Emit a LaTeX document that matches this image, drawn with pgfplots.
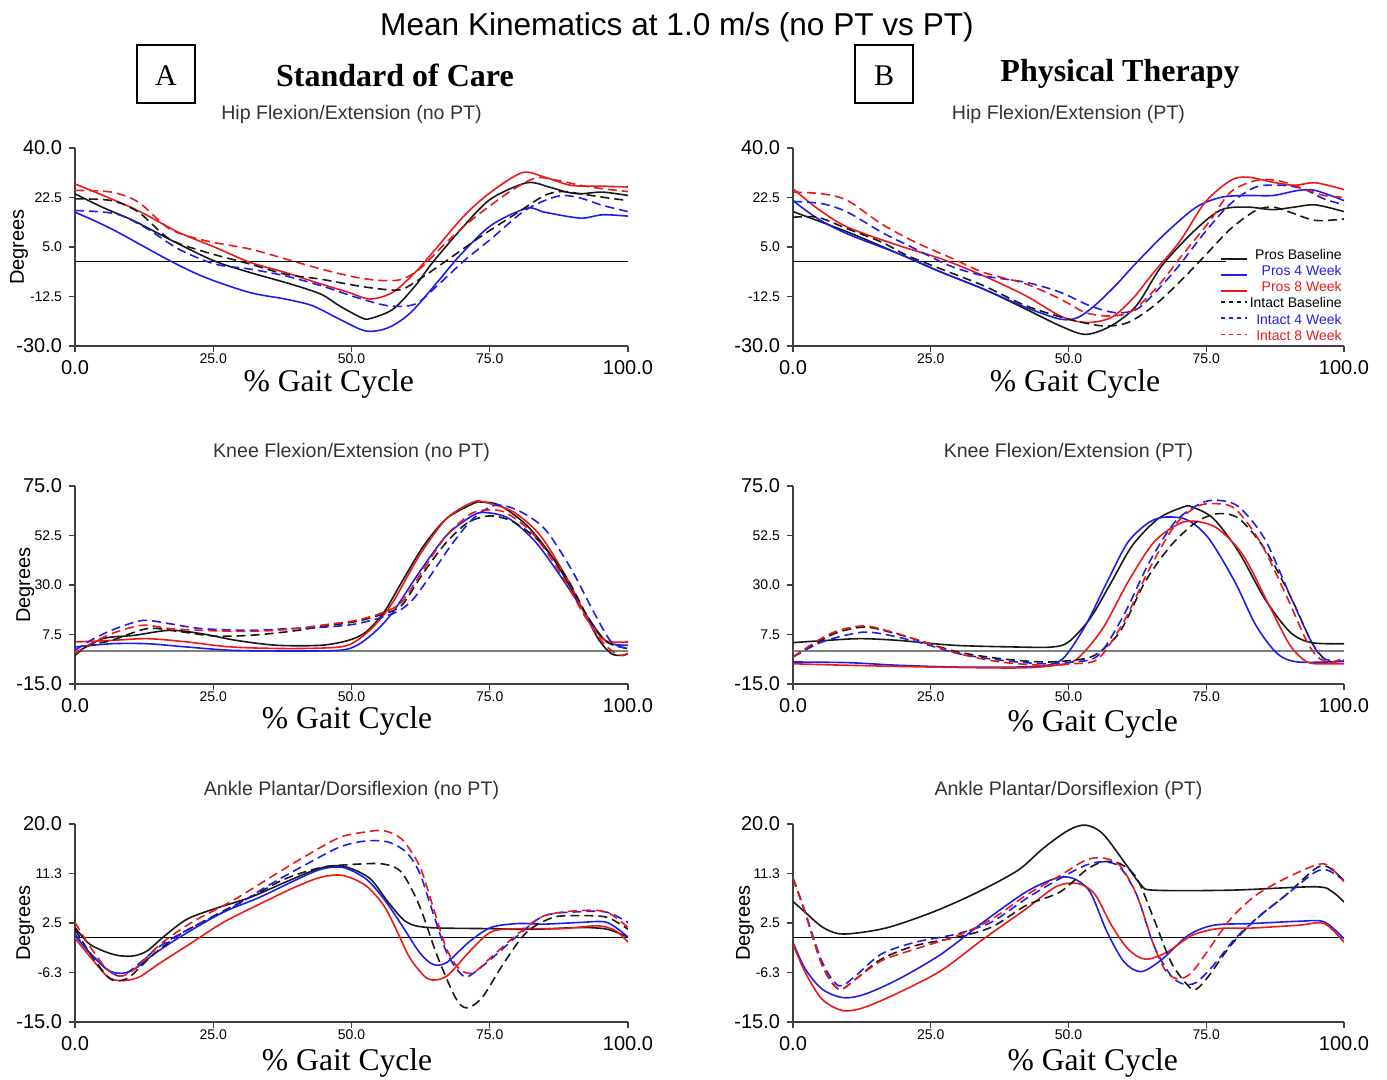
\documentclass[border=0pt]{standalone}
\usepackage{fontspec}
\setmainfont{Liberation Sans}
\newfontfamily\tnr{Liberation Serif}
\usepackage{pgfplots}
\pgfplotsset{compat=1.18}
\definecolor{cb}{RGB}{25,25,25}
\definecolor{cblue}{RGB}{30,30,235}
\definecolor{cred}{RGB}{235,25,25}
\newcommand\LT[1]{{\fontsize{10}{11}\selectfont #1}}
\newcommand\LX[1]{{\fontsize{10}{11}\selectfont\rule{0pt}{10.2pt}#1}}
\pgfplotsset{
  kin/.style={scale only axis, height=99pt, xmin=0, xmax=100, enlargelimits=false,
    axis lines=left, axis line style={-, black!75, line width=0.6pt},
    tick align=outside, major tick length=3pt, tick style={black!75, line width=0.6pt},
    xtick={0,25,50,75,100}, xticklabels={\LX{0.0},25.0,50.0,75.0,\LX{100.0}},
    ticklabel style={font=\fontsize{7}{8}\selectfont},
    xticklabel style={inner sep=0.8pt},
    title style={font=\fontsize{9.8}{11}\selectfont, text=black!80, at={(0.5,1)}, anchor=base, yshift=8pt},
    xlabel={\tnr\% Gait Cycle}, xlabel style={font=\fontsize{15.8}{18}\selectfont, anchor=base, inner sep=0pt},
    ylabel style={font=\fontsize{10}{12}\selectfont, anchor=center},
    every axis plot/.append style={line width=0.8pt, smooth},
  },
  L/.style={width=276.5pt},
  R/.style={width=275.5pt},
  pb/.style={cb, solid},
  p4/.style={cblue, solid},
  p8/.style={cred, solid},
  dl/.style={dash pattern=on 4.5pt off 2.5pt,
    /pgfplots/legend image code/.code={\draw[##1, line width=0.75pt, dash pattern=on 2.2pt off 1.8pt] (0pt,1.2pt) -- (13pt,1.2pt);}},
  ib/.style={cb, dl},
  i4/.style={cblue, dl},
  i8/.style={cred, dl},
  hip/.style={ymin=-30, ymax=40, ytick={-30,-12.5,5,22.5,40}, yticklabels={\LT{-30.0},-12.5,5.0,22.5,\LT{40.0}}},
  knee/.style={ymin=-15, ymax=75, ytick={-15,7.5,30,52.5,75}, yticklabels={\LT{-15.0},7.5,30.0,52.5,\LT{75.0}}},
  ankle/.style={ymin=-15, ymax=20, ytick={-15,-6.25,2.5,11.25,20}, yticklabels={\LT{-15.0},-6.3,2.5,11.3,\LT{20.0}}},
}
\begin{document}
\begin{tikzpicture}
\useasboundingbox (0,0) rectangle (693.5pt,540pt);
\node[font=\fontsize{15.8}{18}\selectfont, anchor=base] at (338.5pt,522pt) {Mean Kinematics at 1.0 m/s (no PT vs PT)};
\draw[line width=0.6pt] (68.5pt,488.5pt) rectangle (97.5pt,517.5pt);
\node[font=\tnr\fontsize{15}{18}\selectfont] at (83pt,502pt) {A};
\node[font=\tnr\bfseries\fontsize{16}{19}\selectfont, anchor=base] at (197.5pt,496.5pt) {Standard of Care};
\draw[line width=0.6pt] (427.5pt,488.5pt) rectangle (456.5pt,517.5pt);
\node[font=\tnr\fontsize{15}{18}\selectfont] at (442pt,502pt) {B};
\node[font=\tnr\bfseries\fontsize{16}{19}\selectfont, anchor=base] at (560pt,499pt) {Physical Therapy};

% ---------- Hip, no PT
\begin{axis}[kin, L, hip, at={(37.5pt,367pt)}, anchor=south west,
  title={Hip Flexion/Extension (no PT)}, ylabel={Degrees},
  ylabel style={at={(axis description cs:-0.101,0.5)}},
  xlabel style={at={(axis description cs:0.459,0)}, yshift=-23pt}]
\draw[black, line width=0.5pt] (axis cs:0,0) -- (axis cs:100,0);
\addplot[pb] coordinates {(0,23.8)(5,19)(10.6,14.3)(17,7.8)(25,0.2)(31.6,-4)(39,-8.1)(44.5,-11.7)(47.8,-15.8)(51.8,-20)(53.4,-20.3)(57.5,-17)(61.5,-8.8)(64.7,-0.4)(70.4,12.6)(75.2,22)(81.7,27.7)(85.7,26.2)(88.9,24.4)(91.4,23.8)(95.4,24.4)(100,23.2)};
\addplot[p4] coordinates {(0,17.3)(6.6,11.4)(17.1,0.2)(23.6,-5.8)(31.6,-11.1)(38,-13.4)(43,-15.8)(47.8,-20.5)(52.6,-24.7)(56.7,-23.5)(60.7,-18.2)(65.5,-7.5)(69.6,2)(75.2,12.6)(81.7,18.7)(84.9,17.3)(91.4,15.2)(95.4,16.4)(100,15.9)};
\addplot[p8] coordinates {(0,27.3)(10.7,18.5)(18.7,10.2)(25.2,5)(31.6,-0.4)(38,-4)(44.5,-8.1)(49.4,-11)(53.4,-13.4)(57.5,-11)(61.5,-4)(64.7,3.1)(70.4,16.1)(75.2,24.4)(80.9,31.3)(84.9,29.7)(89.7,26.8)(95.4,26.5)(100,26.2)};
\addplot[ib] coordinates {(0,22)(6.6,21.4)(11.5,17.3)(17.1,7.8)(23.6,3.2)(31.6,-1)(38,-4.6)(44.5,-6.4)(51,-8.7)(55.9,-10)(59.1,-10)(62.3,-6.4)(67.2,0.2)(73.6,9)(79.2,16.1)(84.9,23.2)(88.1,24.6)(91.4,23.8)(95.4,22.6)(100,21.4)};
\addplot[i4] coordinates {(0,17.9)(7.4,16.7)(13.1,11.4)(18.7,4.3)(25.2,-1)(31.6,-2.8)(38,-5.2)(44.5,-8.7)(51,-12.9)(56.7,-15.8)(61.5,-15.2)(65.5,-8.7)(70.4,0.2)(75.2,7.8)(80.9,17.3)(84.9,21.4)(88.1,23.2)(91.4,22.3)(95.4,19.7)(100,17.5)};
\addplot[i8] coordinates {(0,25)(6.6,24.4)(11.5,20.8)(17.1,11.4)(23.6,7.2)(31.6,4.3)(38,0.8)(44.5,-2.8)(51,-5.8)(55.9,-6.9)(59.1,-6.4)(62.3,-2.8)(67.2,6.7)(72,15)(78.5,24.4)(83.3,29.4)(87.4,28.5)(91.4,26.8)(95.4,25.6)(100,24.6)};
\end{axis}

% ---------- Hip, PT
\begin{axis}[kin, R, hip, at={(396.5pt,367pt)}, anchor=south west,
  title={Hip Flexion/Extension (PT)},
  xlabel style={at={(axis description cs:0.512,0)}, yshift=-23pt},
  legend style={draw=none, fill=none, at={(1,0.5)}, anchor=north east,
    font=\fontsize{7}{8}\selectfont, row sep=-0.5pt, inner sep=0pt,
    nodes={inner sep=1pt}},
  legend cell align=right,
  legend image code/.code={\draw[#1, line width=0.75pt] (0pt,-1.5pt) -- (13pt,-1.5pt);},
  legend entries={Pros Baseline, \textcolor{cblue}{Pros 4 Week}, \textcolor{cred}{Pros 8 Week},
    Intact Baseline, \textcolor{cblue}{Intact 4 Week}, \textcolor{cred}{Intact 8 Week}}]
\draw[black, line width=0.5pt] (axis cs:0,0) -- (axis cs:78.6,0);
\addplot[pb] coordinates {(0,17.5)(9.9,10.3)(19.2,2.6)(26.9,-3.9)(34.6,-9.9)(42.3,-17)(48.5,-22.9)(53.1,-25.9)(57.7,-22.9)(62.3,-15.8)(67,-1.5)(73.2,11.4)(77.8,18.2)(82.5,19.1)(87.1,18.2)(91,19.1)(94.8,19.9)(100,17.5)};
\addplot[p4] coordinates {(0,21.4)(4.5,15)(9.9,9.6)(19.2,2.6)(26.9,-3.9)(34.6,-9.9)(42.3,-16.4)(48.5,-20.5)(51.6,-20)(54.7,-15.8)(58.5,-8.7)(62.4,-0.4)(67.8,10.2)(73.2,19.1)(77.8,22.6)(82.5,23.2)(87.1,23.2)(91.7,25)(94.8,25)(100,21.4)};
\addplot[p8] coordinates {(0,25.6)(4.5,18.5)(9.9,12)(19.2,5.5)(26.9,0.8)(34.6,-5.2)(42.3,-12.3)(48.5,-19.4)(53.1,-21.7)(57.7,-20)(61.6,-13.4)(65.5,-3.9)(70.1,6.7)(74.8,20.8)(79.4,28.5)(82.5,29.7)(87.1,27.9)(91,26.8)(94.8,27.7)(100,25.3)};
\addplot[ib] coordinates {(0,15.5)(4.5,15.5)(9.9,11.4)(16.1,6.7)(20.7,2)(26.9,-2.8)(34.6,-8.7)(42.3,-15.8)(50,-20.5)(56.2,-22.9)(60.8,-21.7)(65.5,-15.8)(70.1,-7.5)(74.8,2)(79.4,11.4)(84,17.9)(87.1,19.1)(90.2,17.3)(94.8,14.4)(100,14.9)};
\addplot[i4] coordinates {(0,21.1)(5.3,20.3)(9.9,17.3)(16.1,10.2)(22.2,4.3)(28.4,-1.6)(34.6,-5.2)(42.3,-7.5)(48.5,-11)(53.9,-15.8)(58.5,-18.2)(62.4,-17)(66.3,-9.9)(70.1,-1.5)(74.8,10.3)(79.4,20.3)(84,26.2)(88.6,26.8)(92.5,25.6)(96.4,22)(100,19.9)};
\addplot[i8] coordinates {(0,24.4)(5.3,23.8)(9.9,21.4)(16.1,13.1)(22.2,6.7)(28.4,1.4)(34.6,-4)(42.3,-8.1)(48.5,-13.4)(53.1,-18.2)(57.7,-19.4)(61.6,-17.6)(66.3,-8.7)(70.1,0.8)(75.5,13.8)(79.4,24.4)(84,28.5)(87.9,28.5)(91.7,26.2)(96.4,23.2)(100,22.6)};
\end{axis}

% ---------- Knee, no PT
\begin{axis}[kin, L, knee, at={(37.5pt,198pt)}, anchor=south west,
  title={Knee Flexion/Extension (no PT)}, ylabel={Degrees},
  ylabel style={at={(axis description cs:-0.09,0.5)}},
  xlabel style={at={(axis description cs:0.492,0)}, yshift=-22.5pt}]
\draw[black!50, line width=0.8pt] (axis cs:0,0) -- (axis cs:100,0);
\addplot[pb] coordinates {(0,-1.2)(5,5.6)(10.7,7.1)(17.1,9.4)(22.8,7.9)(29.2,4.8)(36.5,2.6)(44.5,2.6)(49.4,4.8)(52.6,8.6)(55.9,17.7)(59.1,31.4)(63.1,48)(67.2,60.2)(72,67)(73.6,67.7)(76.8,66.2)(81.7,57.1)(86.5,42)(91.4,20.8)(94.6,5.6)(97,-1.2)(99,-2)(100,-1.2)};
\addplot[p4] coordinates {(0,1.8)(6.6,3.3)(13.1,3.3)(20.3,1.8)(28.4,0.3)(38.9,0)(47.8,0.3)(51,2.6)(54.2,8.6)(57.5,17.7)(62.3,35.9)(67.2,52.6)(72,61.7)(74.4,62.9)(78.5,60.2)(83.3,49.5)(88.1,32.9)(92.9,14.7)(96.2,4.1)(100,2.6)};
\addplot[p8] coordinates {(0,4.1)(6.6,4.8)(13.1,5.6)(20.3,4.1)(28.4,1.8)(38.9,1.1)(47.8,1.8)(51,4.8)(54.2,11.7)(57.5,22.3)(62.3,43.5)(67.2,60.2)(72,67.7)(74.4,67.4)(79.3,63.2)(84.1,52.6)(89,32.9)(92.9,13.7)(95.4,5.6)(97,4.1)(100,4.1)};
\addplot[ib] coordinates {(0,-2)(2.6,2.6)(6.6,4.8)(13.1,10.2)(18.7,8.9)(25.2,6.8)(31.6,7.1)(38.9,8.9)(45.4,11.4)(51,13.5)(55.9,17)(59.1,20.8)(63.1,35.9)(67.2,49.5)(71.2,58.6)(75.2,61.4)(79.3,58.6)(84.1,49.5)(89,32.9)(92.9,14.7)(96.2,4.1)(100,1.1)};
\addplot[i4] coordinates {(0,0.3)(3.4,5.6)(7.4,10.2)(12.3,13.9)(17.1,12.4)(22.8,10.2)(31.6,9.4)(38.9,10.2)(45.4,10.9)(51,12.4)(57.5,17)(60.7,22.3)(63.9,32.9)(68,48)(72,60.2)(76,66.2)(80.1,63.9)(84.9,55.6)(89.7,37.4)(93.8,17.7)(97,4.1)(100,1.1)};
\addplot[i8] coordinates {(0,-1.2)(3.4,4.1)(7.4,8.6)(12.3,11.7)(17.1,10.2)(22.8,9.4)(31.6,8.9)(38.9,9.9)(45.4,12)(51,14)(55.9,17.7)(59.1,22.3)(63.1,37.4)(67.2,52.6)(71.2,61.7)(73.6,63.9)(77.6,63.2)(82.5,54.1)(87.3,37.4)(92.1,16.2)(95.4,4.1)(97.8,-1.2)(99.4,-2)(100,-0.5)};
\end{axis}

% ---------- Knee, PT
\begin{axis}[kin, R, knee, at={(396.5pt,198pt)}, anchor=south west,
  title={Knee Flexion/Extension (PT)},
  xlabel style={at={(axis description cs:0.544,0)}, yshift=-24pt}]
\draw[black!50, line width=0.8pt] (axis cs:0,0) -- (axis cs:100,0);
\addplot[pb] coordinates {(0,3.8)(6,4.8)(12.2,5.6)(19.2,4.8)(29.2,2.6)(40.8,1.8)(47,1.8)(50,4.1)(53.9,14.7)(57.8,31.4)(61.6,48)(66.3,60.2)(70.9,65.5)(72.4,65.5)(76.3,60.2)(80.9,45)(85.6,23.8)(90.2,8.6)(94.1,3.8)(100,3.3)};
\addplot[p4] coordinates {(0,-5)(9.9,-5.3)(19.2,-6.5)(30,-7.3)(40.8,-7.3)(46.2,-6.5)(49.3,-2.7)(53.1,11.7)(57,31.4)(60.8,49.5)(64.7,58.6)(67.8,60.9)(71.7,59.4)(75.5,51)(80.2,31.4)(84,11.7)(87.9,-1.2)(91.7,-5)(100,-4.7)};
\addplot[p8] coordinates {(0,-5.8)(9.9,-6.5)(25.3,-7.3)(40.8,-7.7)(47.7,-6.5)(51.6,-3.5)(56.2,10.2)(60.8,31.4)(65.5,49.5)(70.1,57.9)(73.2,58.9)(77.1,55.6)(81.7,43.5)(86.4,20.8)(90.2,2.6)(93.3,-5)(96.4,-5.8)(100,-5.8)};
\addplot[ib] coordinates {(0,-2.7)(4.5,4.1)(8.3,8.6)(13,10.9)(17.6,8.6)(23.8,4.1)(30,-0.5)(37.7,-3.5)(45.4,-5)(50.8,-4.2)(54.7,-2)(59.3,8.6)(63.9,31.4)(68.6,48)(73.2,58.6)(77.1,62.4)(80.9,60.2)(85.6,46.5)(90.2,25.3)(94.1,4.1)(96.4,-3.5)(97.9,-5)(100,-4.2)};
\addplot[i4] coordinates {(0,-2.7)(4.5,3.3)(8.3,6.4)(13,8.6)(17.6,7.1)(23.8,3.3)(30,-1.2)(37.7,-4.2)(45.4,-5.8)(50.8,-5)(55.4,-2)(60,16.2)(64.7,40.5)(69.3,58.6)(73.9,67)(77.1,68.5)(80.9,65.5)(85.6,51)(90.2,25.3)(94.1,4.1)(96.4,-3.5)(100,-4.7)};
\addplot[i8] coordinates {(0,-2.7)(4.5,4.8)(8.3,9.4)(13,11.4)(17.6,8.9)(23.8,4.1)(30,-1.2)(37.7,-5)(45.4,-6.5)(50.8,-5.8)(55.4,-3.5)(60,13.2)(64.7,37.4)(69.3,57.1)(73.2,65.5)(76.3,67)(80.2,64.7)(84.8,49.5)(89.5,25.3)(93.3,4.1)(95.6,-3.5)(97.9,-5)(100,-2.7)};
\end{axis}

% ---------- Ankle, no PT
\begin{axis}[kin, L, ankle, at={(37.5pt,29pt)}, anchor=south west,
  title={Ankle Plantar/Dorsiflexion (no PT)}, ylabel={Degrees},
  ylabel style={at={(axis description cs:-0.09,0.5)}},
  xlabel style={at={(axis description cs:0.492,0)}, yshift=-24.5pt}]
\draw[black, line width=0.5pt] (axis cs:0,0) -- (axis cs:100,0);
\addplot[pb] coordinates {(0,1.7)(2.6,-1.2)(5.8,-2.7)(8.2,-3.3)(10.7,-3.3)(13.1,-2.4)(16.3,0.3)(20.3,3.2)(25.2,5)(31.6,7)(38,9.7)(42.9,11.7)(46.2,12.6)(49.4,12.3)(53.4,10.3)(56.7,6.1)(59.9,2.7)(63.9,1.7)(75.2,1.5)(83.3,1.4)(91.4,1.7)(96.2,1.4)(100,0)};
\addplot[p4] coordinates {(0,0.3)(2.6,-2.7)(5.8,-5.7)(8.2,-6.4)(10.7,-5.7)(14.7,-2.7)(20.3,0.8)(26.8,4.4)(33.3,7)(39.7,10)(44.5,12)(48.5,12.3)(52.6,10.3)(55.9,6.7)(59.1,2.1)(62.3,-2.7)(64.7,-4.8)(67.2,-4.5)(71.2,-0.9)(75.2,1.7)(80.1,2.4)(84.9,2.3)(91.4,2.6)(96.2,2.6)(100,0)};
\addplot[p8] coordinates {(0,-0.2)(2.6,-3.3)(5.8,-6.9)(8.2,-7.7)(11.5,-7.1)(15.5,-4.5)(20.3,-1.5)(26.8,2.6)(33.3,5.8)(39.7,8.8)(44.5,10.6)(48.5,10.9)(52.6,9.1)(55.9,5.5)(58.3,0.9)(60.7,-3.9)(63.9,-7.4)(67.2,-6.9)(71.2,-2.7)(75.2,0.9)(80.1,1.5)(88.1,1.5)(94.6,2)(97.8,1.1)(100,-0.9)};
\addplot[ib] coordinates {(0,1.4)(2.6,-2.7)(5.8,-6.9)(7.4,-7.7)(9.8,-7.1)(13.9,-3.3)(18.7,0.3)(25.2,3.8)(31.6,7)(38,10.3)(44.5,12.3)(51,12.9)(55.9,12.9)(59.1,11.4)(62.3,5.5)(65.5,-3.3)(68.8,-10.7)(70.8,-12.5)(73.6,-10.7)(77.6,-4.5)(81.7,0.9)(86.5,3.5)(91.4,3.8)(96.2,3.5)(100,1.4)};
\addplot[i4] coordinates {(0,0.6)(2.6,-2.7)(5.8,-5.7)(8.2,-6.9)(10.7,-5.4)(15.5,-1.5)(21.1,1.7)(28.4,5.2)(34.9,9.1)(41.3,12.6)(47.8,15.9)(52.6,17)(56.7,16.8)(59.9,15)(62.3,11.4)(64.7,4.4)(67.2,-2.7)(69.6,-6.3)(71.2,-6.9)(75.2,-3.9)(80.1,0.3)(84.9,3.8)(91.4,4.5)(96.2,4.4)(100,2.6)};
\addplot[i8] coordinates {(0,2.6)(2.6,-1.5)(5.8,-5.7)(8.2,-6.9)(10.7,-5.7)(15.5,-1.2)(21.1,2.6)(28.4,6.4)(34.9,10.3)(41.3,14.1)(47.8,17.6)(52.6,18.6)(55.9,18.8)(59.1,17.3)(62.3,12.6)(64.7,5.5)(67.2,-2.1)(69.6,-5.7)(72,-6.3)(75.2,-3.6)(80.1,0.6)(84.9,3.8)(91.4,4.7)(96.2,4.4)(100,1.7)};
\end{axis}

% ---------- Ankle, PT
\begin{axis}[kin, R, ankle, at={(396.5pt,29pt)}, anchor=south west,
  title={Ankle Plantar/Dorsiflexion (PT)}, ylabel={Degrees},
  ylabel style={at={(axis description cs:-0.087,0.5)}},
  xlabel style={at={(axis description cs:0.544,0)}, yshift=-24.5pt}]
\draw[black, line width=0.5pt] (axis cs:0,0) -- (axis cs:100,0);
\addplot[pb] coordinates {(0,6.3)(2.2,4.4)(5.3,1.8)(8.3,0.6)(12.2,0.8)(17.6,1.8)(25.3,4.4)(33,7.7)(40.8,11.8)(45.4,15.7)(50,18.9)(53.1,19.8)(56.2,18.3)(60.1,13.3)(63.2,9.2)(65.5,8.3)(79.4,8.3)(94.8,8.9)(97.9,8)(100,6.2)};
\addplot[p4] coordinates {(0,-0.9)(2.2,-5.6)(5.3,-9.2)(9.1,-10.7)(13,-10.1)(19.2,-7.4)(26.9,-3)(34.6,2.7)(42.3,8)(47.7,10.4)(50.8,10.4)(53.9,8)(57,0.9)(60.1,-4.4)(63.2,-6.1)(67,-3.9)(71.7,0.3)(76.3,2.1)(83.2,2.4)(91.7,2.8)(96.4,2.7)(100,-0.3)};
\addplot[p8] coordinates {(0,-1.2)(2.2,-6.2)(5.3,-11)(9.1,-13)(13,-12.4)(19.2,-9.8)(26.9,-5.9)(34.6,-0.3)(42.3,5)(47.7,8.9)(51.6,9.5)(54.7,7.7)(57.8,2.1)(60.8,-2.1)(63.9,-3.9)(67.8,-2.7)(72.4,0.3)(77.1,1.5)(83.2,1.6)(91.7,2.1)(96.4,2.4)(100,-0.9)};
\addplot[ib] coordinates {(0,10.4)(2.2,4.4)(5.3,-5)(8.3,-9.2)(11.4,-7.4)(16,-3.9)(22.2,-1.5)(29.9,0)(36.1,1.8)(42.3,5.6)(48.5,8)(53.1,11.8)(56.2,13.3)(59.3,13)(62.4,10.4)(65.5,3.2)(68.6,-4.4)(71.7,-8.6)(73.2,-9.2)(75.5,-6.8)(79.4,-1.5)(84,3.2)(89.4,7.4)(94.8,12.1)(97.1,12.4)(100,10)};
\addplot[i4] coordinates {(0,10.4)(2.2,4.4)(5.3,-4.4)(8.3,-8.6)(11.4,-6.8)(16,-3)(22.2,-0.9)(29.9,0.6)(36.1,2.7)(42.3,6.8)(48.5,10.4)(53.1,12.7)(56.2,13.3)(59.3,12.4)(62.4,7.4)(65.5,-1.5)(68.6,-6.8)(70.9,-8.3)(73.2,-8)(76.3,-5)(80.2,-0.3)(84.8,3.8)(90.2,8)(94.8,11.5)(97.1,11.8)(100,10)};
\addplot[i8] coordinates {(0,10.4)(2.2,4.4)(5.3,-5)(8.3,-9.2)(11.4,-7.4)(16,-4.2)(22.2,-2.1)(29.9,0.3)(36.1,3.2)(42.3,7.4)(48.5,10.9)(53.1,13.6)(56.2,14)(59.3,12.7)(62.4,7.4)(65.5,-1.5)(67.8,-6.2)(70.1,-7.4)(72.4,-6.2)(75.5,-2.1)(79.4,3.2)(84,7.4)(89.4,10.4)(94.8,12.7)(97.1,12.7)(100,9.8)};
\end{axis}
\end{tikzpicture}
\end{document}
